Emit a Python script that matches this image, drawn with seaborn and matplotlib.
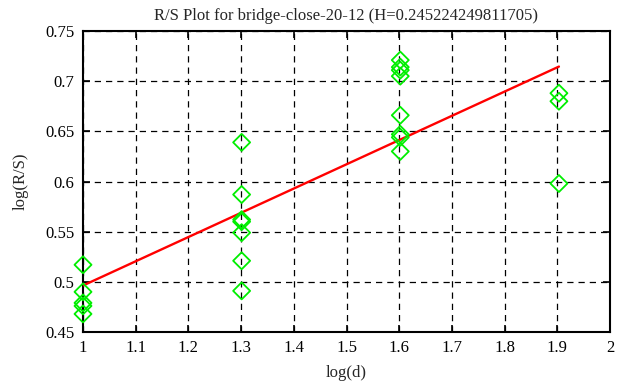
import numpy as np
import pandas as pd
import matplotlib
matplotlib.use("Agg")
import matplotlib.pyplot as plt
import seaborn as sns

# Data
log_d_levels = [1.0, 1.30103, 1.60206, 1.90309]
rs_d1 = [0.517, 0.490, 0.479, 0.476, 0.468]
rs_d2 = [0.639, 0.587, 0.562, 0.560, 0.549, 0.521, 0.491]
rs_d3 = [0.721, 0.714, 0.711, 0.705, 0.666, 0.647, 0.644, 0.630]
rs_d4 = [0.688, 0.680, 0.598]
x_ticks = [1, 1.1, 1.2, 1.3, 1.4, 1.5, 1.6, 1.7, 1.8, 1.9, 2]
x_tick_labels = ["1", "1.1", "1.2", "1.3", "1.4", "1.5", "1.6", "1.7", "1.8", "1.9", "2"]
y_ticks = [0.45, 0.5, 0.55, 0.6, 0.65, 0.7, 0.75]
y_tick_labels = ["0.45", "0.5", "0.55", "0.6", "0.65", "0.7", "0.75"]
title = "R/S Plot for bridge-close-20-12 (H=0.245224249811705)"

groups = [rs_d1, rs_d2, rs_d3, rs_d4]
xs, ys = [], []
for lv, g in zip(log_d_levels, groups):
    xs += [lv] * len(g)
    ys += g
df = pd.DataFrame({"log(d)": xs, "log(R/S)": ys})

sns.set_style("ticks")
plt.rcParams["font.family"] = ["Liberation Serif", "DejaVu Serif"]

fig = plt.figure(figsize=(6.17, 3.87), dpi=100)
ax = fig.add_axes([83/617, 1 - 332/387, (610 - 83)/617, (332 - 31)/387])

sns.regplot(data=df, x="log(d)", y="log(R/S)", scatter=False, ci=None,
            truncate=True, color="#ff0000", line_kws={"linewidth": 1.7, "zorder": 3}, ax=ax)
sns.scatterplot(data=df, x="log(d)", y="log(R/S)", marker="D", s=75,
                facecolor="none", edgecolor="#00ee00", linewidth=1.3, zorder=4,
                clip_on=False, ax=ax)

ax.set_xlim(1, 2)
ax.set_ylim(0.45, 0.75)
ax.set_xticks(x_ticks)
ax.set_xticklabels(x_tick_labels)
ax.set_yticks(y_ticks)
ax.set_yticklabels(y_tick_labels)
ax.grid(True, color="black", linestyle=(0, (5, 4)), linewidth=0.9)
ax.set_axisbelow(True)
ax.tick_params(direction="in", length=5, width=1.2, top=True, right=True,
               labelsize=12, colors="black", pad=6)
for sp in ax.spines.values():
    sp.set_visible(True)
    sp.set_color("black")
    sp.set_linewidth(1.5)
ax.set_xlabel("log(d)", fontsize=12, labelpad=6)
ax.set_ylabel("log(R/S)", fontsize=12, labelpad=12)
ax.set_title(title, fontsize=12, pad=8)

fig.savefig("out.png", dpi=100)
